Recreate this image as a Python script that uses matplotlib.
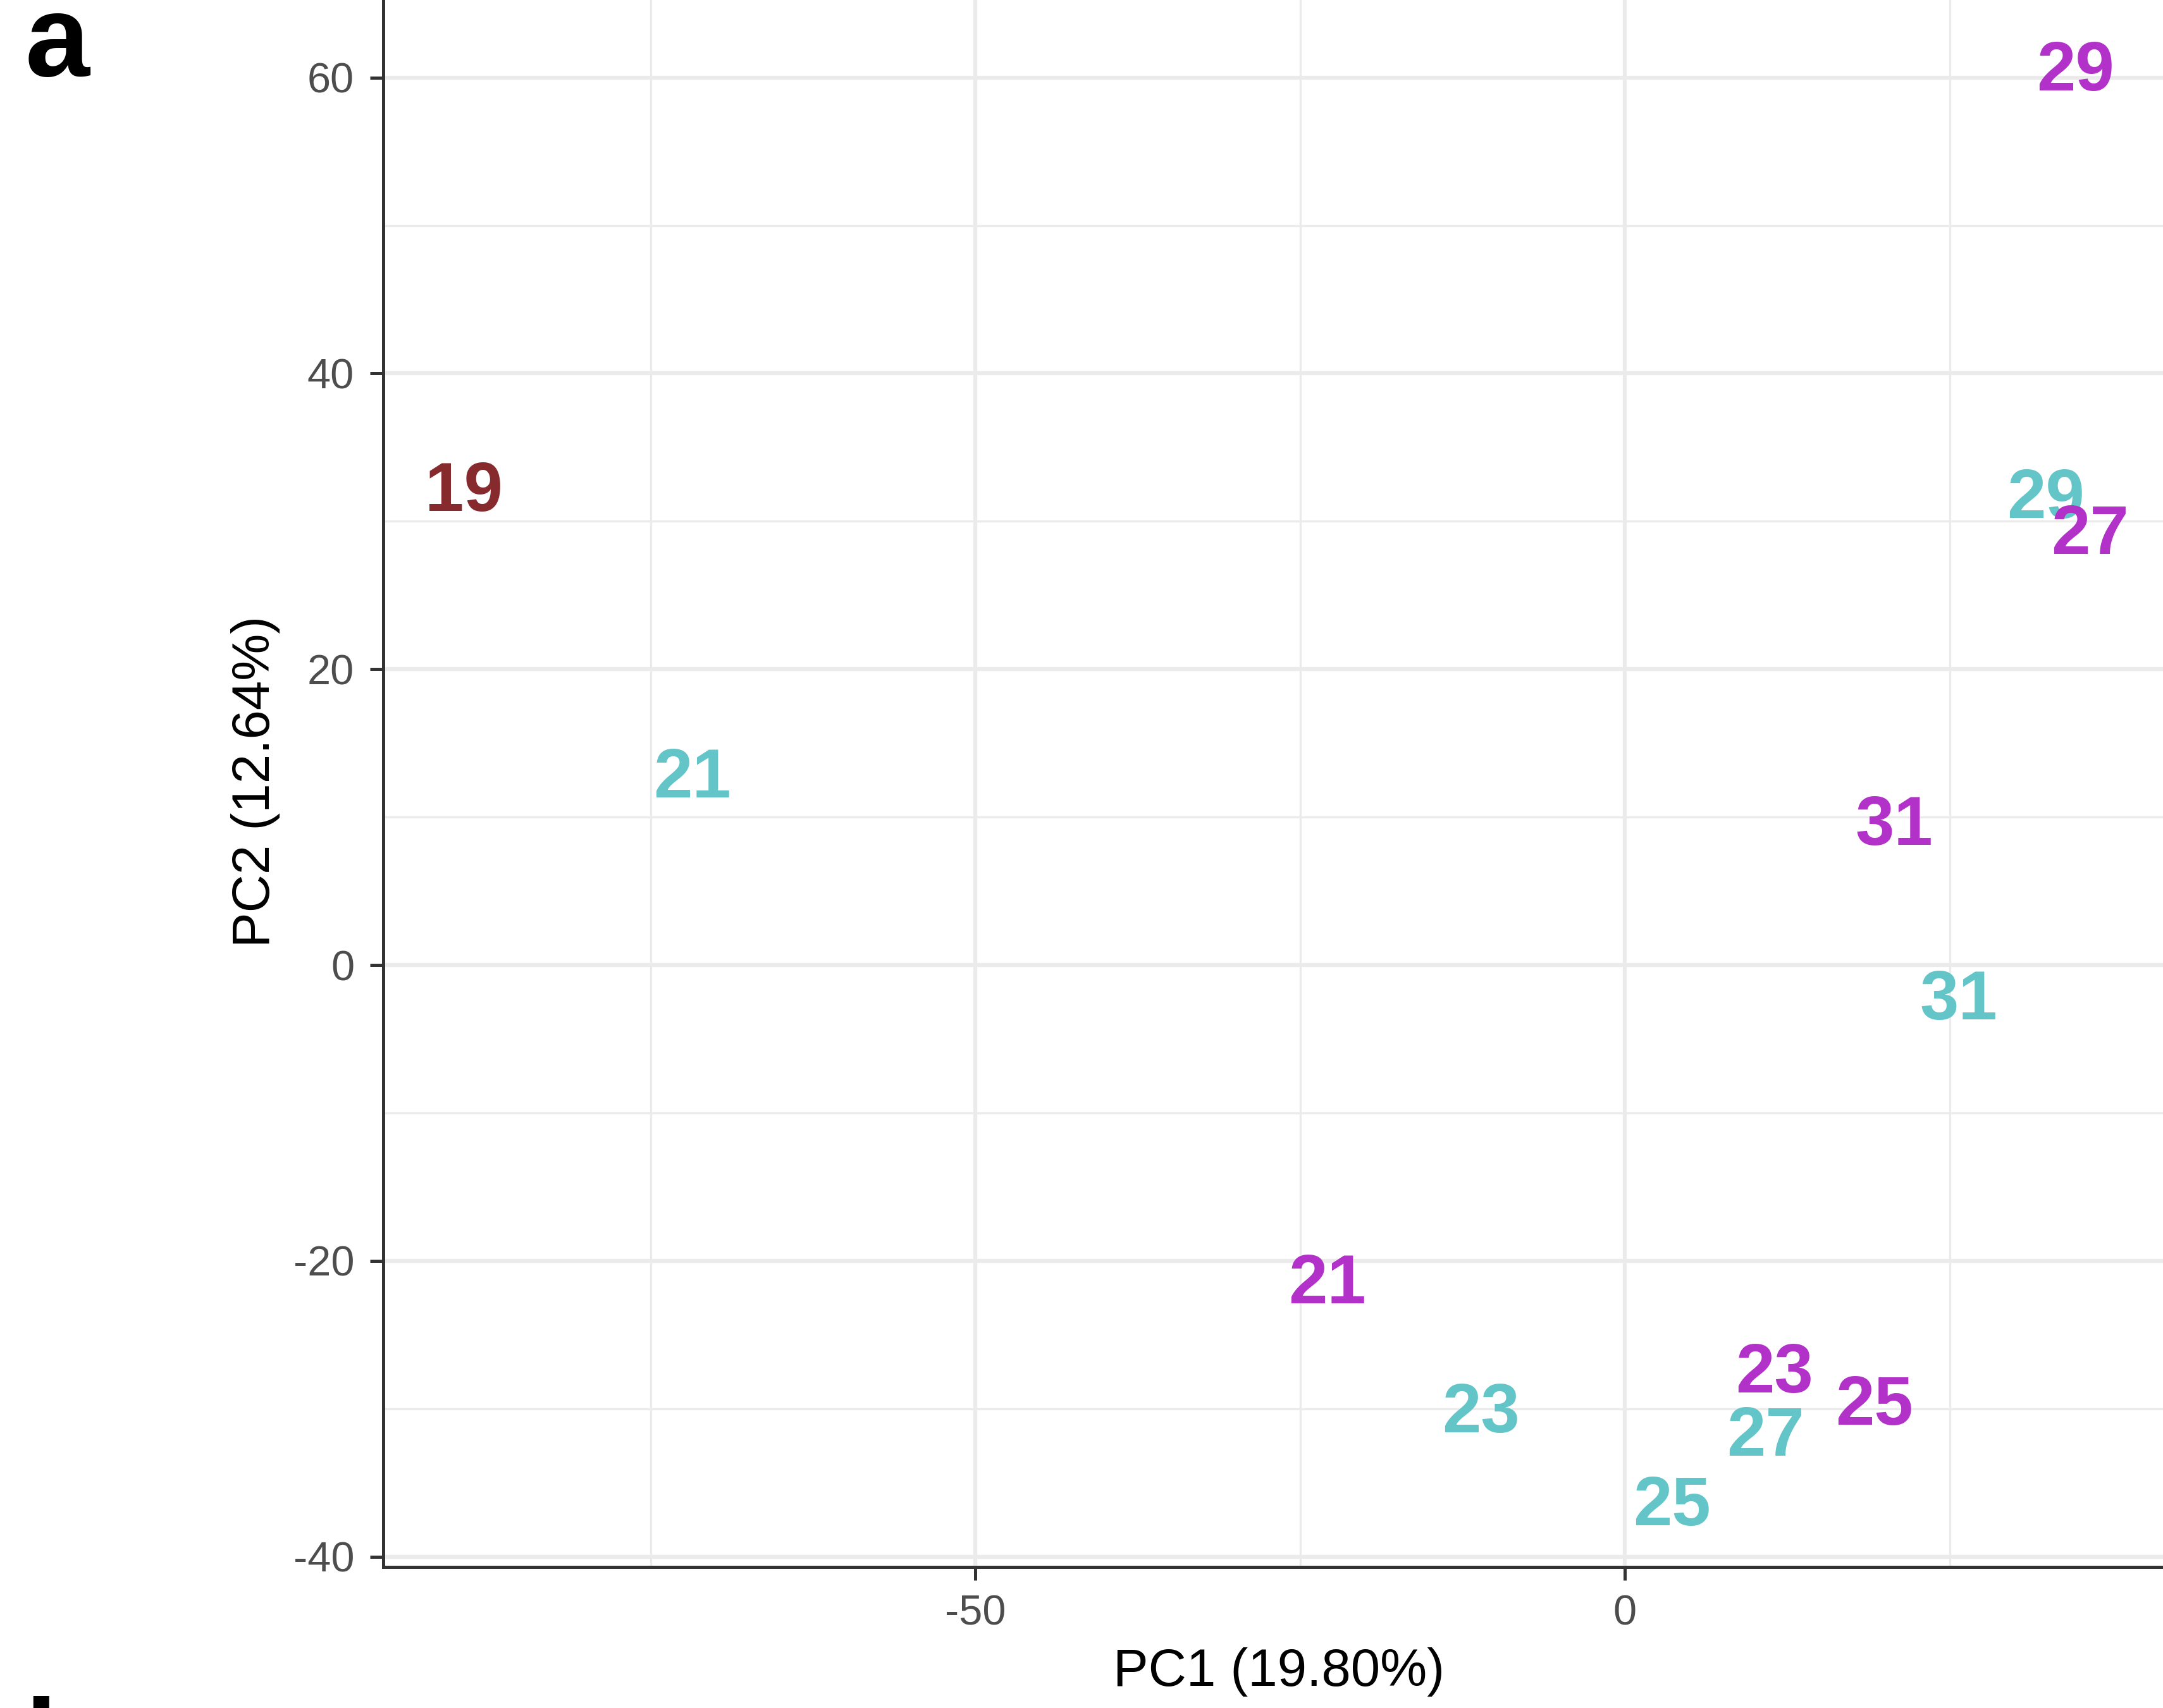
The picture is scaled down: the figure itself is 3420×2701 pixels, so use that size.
import matplotlib
matplotlib.use("Agg")
import matplotlib.pyplot as plt
from matplotlib.ticker import MultipleLocator

# PCA scores: one label per sample (day), coloured by group
labels = ["19", "21", "29", "29", "27", "31", "31", "21", "23", "23", "25", "27", "25"]
groups = ["C", "A", "B", "A", "B", "B", "A", "B", "A", "B", "B", "A", "A"]
pc1 = [-89.4, -71.8, 34.7, 32.4, 35.8, 20.7, 25.7, -22.9, -11.1, 11.5, 19.2, 10.8, 3.6]
pc2 = [32.4, 13.0, 60.8, 31.9, 29.5, 9.8, -2.0, -21.2, -29.9, -27.2, -29.4, -31.5, -36.2]

group_colors = {"A": "#63C5C8", "B": "#B232C9", "C": "#862A2E"}

x_label = "PC1 (19.80%)"
y_label = "PC2 (12.64%)"

plt.rcParams["font.family"] = ["Liberation Sans", "DejaVu Sans"]
plt.rcParams["axes.unicode_minus"] = False

W, H, DPI = 3420, 2701, 300
fig = plt.figure(figsize=(W / DPI, H / DPI), dpi=DPI)

# panel extends past the right and top edges of the canvas
ax = fig.add_axes([606 / W, (H - 2478) / H, (3438 - 606) / W, (2478 + 6) / H])
ax.set_xlim(-95.6, 42.3)
ax.set_ylim(-40.7, 65.5)

ax.xaxis.set_major_locator(MultipleLocator(50))
ax.xaxis.set_minor_locator(MultipleLocator(25))
ax.yaxis.set_major_locator(MultipleLocator(20))
ax.yaxis.set_minor_locator(MultipleLocator(10))

ax.grid(which="major", color="#EBEBEB", linewidth=1.5)
ax.grid(which="minor", color="#EBEBEB", linewidth=0.8)
ax.set_axisbelow(True)

for s in ax.spines.values():
    s.set_color("#333333")
    s.set_linewidth(1.2)

ax.tick_params(which="major", length=5, width=1.2, color="#333333",
               labelcolor="#4D4D4D", labelsize=16, pad=6)
ax.tick_params(axis="x", which="major", pad=5.5)
ax.tick_params(which="minor", length=0)

for lab, g, x, y in zip(labels, groups, pc1, pc2):
    ax.text(x, y, lab, color=group_colors[g], fontsize=26.5, fontweight="bold",
            ha="center", va="center_baseline", clip_on=False)

ax.set_xlabel(x_label, fontsize=20, color="black", labelpad=5)
ax.set_ylabel(y_label, fontsize=20, color="black", labelpad=5)

fig.text(40 / W, (H - 120) / H, "a", fontsize=44, fontweight="bold",
         ha="left", va="baseline")
fig.text(40 / W, (H - 2815) / H, "b", fontsize=44, fontweight="bold",
         ha="left", va="baseline")

fig.savefig("out.png", dpi=DPI)
